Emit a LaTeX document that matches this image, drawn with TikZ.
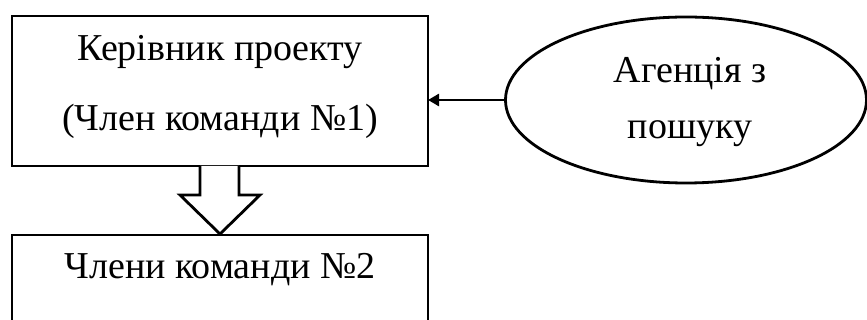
\documentclass[tikz,border=0pt]{standalone}
\usepackage{fontspec}
\setmainfont{Liberation Serif}
\usetikzlibrary{shapes.geometric,arrows.meta}
\begin{document}
\begin{tikzpicture}[x=1pt,y=-1pt,
  lw/.style={line width=2.8pt},
  txt/.style={font=\fontsize{38}{43}\selectfont, inner sep=0pt, anchor=center}]
\useasboundingbox (0,0) rectangle (867,320);
\begin{scope}
\clip (0,0) rectangle (867,320);
% top box
\draw[lw] (12,16) rectangle (428,166);
\coordinate (boxR) at (428,100);
\node[txt] (t1) at (220,52) {Керівник проекту};
\node[txt] (t2) at (220,121) {(Член команди №1)};
% bottom box
\draw[lw] (12,235) rectangle (428,340);
\node[txt] (t3) at (220,270) {Члени команди №2};
% ellipse
\node[draw, lw, ellipse, minimum width=361pt, minimum height=166pt, inner sep=0pt] (ag) at (686,100) {};
\node[txt] (t4) at (690,74) {Агенція з};
\node[txt] (t5) at (690,134) {пошуку};
\draw[line width=2.6pt, -{Triangle[length=11pt,width=12pt]}] (ag.west) -- (boxR);
% block arrow
\draw[lw, line join=miter, fill=white] (200,166) -- (200,195) -- (180,195) -- (220,234) -- (260,195) -- (239,195) -- (239,166);
\end{scope}
\end{tikzpicture}
\end{document}
